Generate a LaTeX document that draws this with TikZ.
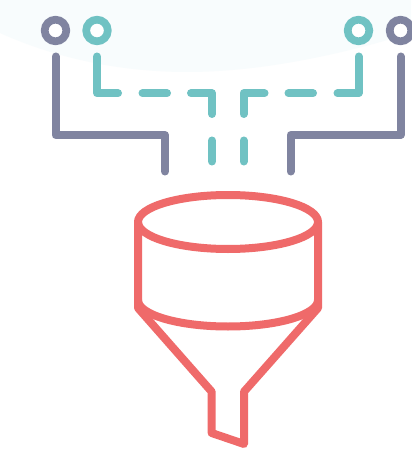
\documentclass[tikz,border=0pt]{standalone}
\definecolor{purp}{HTML}{8084A0}
\definecolor{teal2}{HTML}{70C2C3}
\definecolor{coral}{HTML}{EF6A6A}
\definecolor{blob}{HTML}{F8FCFD}
\tikzset{
  wire/.style={line width=6pt,line cap=round,line join=round},
  pw/.style={wire,draw=purp},
  tw/.style={wire,draw=teal2},
  ring/.style={circle,line width=5.8pt,inner sep=0pt,minimum size=16.2pt,fill=white},
  fun/.style={line width=6pt,draw=coral,line cap=round,line join=round}
}
\begin{document}
\begin{tikzpicture}[x=0.75pt,y=-0.75pt]
\useasboundingbox (0,0) rectangle (411,449);
\fill[white] (0,0) rectangle (411,449);
\fill[blob] (0,0) -- (0,33) .. controls (60,60) and (125,72) .. (187,72) .. controls (260,72) and (340,55) .. (411,33) -- (411,0) -- cycle;
% rings
\node[ring,draw=purp] (pl) at (55.5,30.5) {};
\node[ring,draw=teal2] (tl) at (97,30.5) {};
\node[ring,draw=teal2] (tr) at (358.5,30.5) {};
\node[ring,draw=purp] (pr) at (400.5,30.5) {};
% purple wires
\draw[pw] (55.5,56.5) -- (55.5,135) -- (165,135) -- (165,171.5);
\draw[pw] (400.5,56.5) -- (400.5,135) -- (290.5,135) -- (290.5,171.5);
% teal wires
\draw[tw] (97,56.5) -- (97,93.3) -- (118,93.3);
\draw[tw] (142.5,93.3) -- (167,93.3);
\draw[tw] (191,93.3) -- (212,93.3) -- (212,114);
\draw[tw] (212,140.5) -- (212,161.5);
\draw[tw] (243.5,140.5) -- (243.5,161.5);
\draw[tw] (264.5,93.3) -- (243.5,93.3) -- (243.5,114);
\draw[tw] (288.5,93.3) -- (313,93.3);
\draw[tw] (337.5,93.3) -- (358.5,93.3) -- (358.5,56.5);
% funnel
\draw[fun] (228,222) ellipse [x radius=90,y radius=27];
\draw[fun] (138,300) arc [start angle=180,end angle=0,x radius=90,y radius=26.5];
\draw[fun] (138,222) -- (138,308) -- (211.7,391.7) -- (211.7,433) -- (244,444) -- (244,391.7) -- (318,308) -- (318,222);
\end{tikzpicture}
\end{document}
